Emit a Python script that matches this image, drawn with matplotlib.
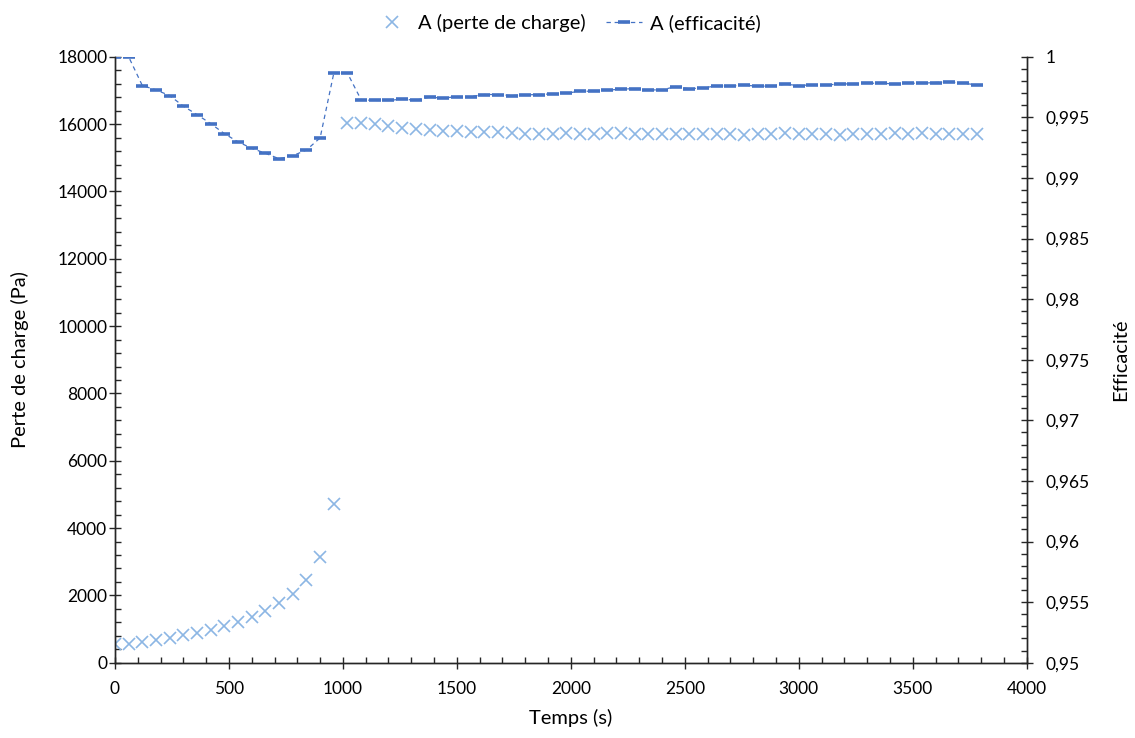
import numpy as np
import matplotlib
matplotlib.use('Agg')
import matplotlib.pyplot as plt
from matplotlib.ticker import MultipleLocator, FuncFormatter

plt.rcParams['font.family'] = ['Lato', 'DejaVu Sans']
plt.rcParams['font.size'] = 12.5

# Time in seconds (one measurement every 60 s)
temps = list(range(0, 3781, 60))

# Pressure drop (Pa)
perte_charge = [
    560, 570, 625, 685, 745, 835, 895, 985, 1090, 1200, 1370, 1550, 1765, 2035,
    2470, 3155, 4720,
    16030, 16040, 15990, 15940, 15900, 15870, 15830, 15810, 15800, 15770,
    15760, 15760, 15730, 15720, 15700, 15700, 15740, 15710, 15720, 15730,
    15740, 15720, 15710, 15710, 15710, 15710, 15720, 15720, 15710, 15680,
    15710, 15720, 15740, 15720, 15710, 15700, 15690, 15700, 15710, 15720,
    15730, 15720, 15730, 15720, 15710, 15700, 15700,
]

# Efficiency
efficacite = [
    1.0, 1.0, 0.99763, 0.99727, 0.9968, 0.99593, 0.99523, 0.99449, 0.99366,
    0.99298, 0.99245, 0.99204, 0.99159, 0.99184, 0.99231, 0.99331, 0.99865,
    0.99865, 0.99645, 0.9964, 0.9964, 0.99651, 0.99642, 0.99667, 0.99659,
    0.99672, 0.99672, 0.99689, 0.99689, 0.9968, 0.99686, 0.99689, 0.99694,
    0.997, 0.99716, 0.99716, 0.99725, 0.99733, 0.99738, 0.99727, 0.99727,
    0.99755, 0.99736, 0.99744, 0.9976, 0.9976, 0.99766, 0.99758, 0.99758,
    0.99774, 0.99763, 0.99769, 0.99769, 0.99774, 0.99779, 0.99782, 0.99782,
    0.99777, 0.99782, 0.99782, 0.99788, 0.99793, 0.99782, 0.99769,
]

LIGHT = '#8CB6E4'
DARK = '#4472C4'
AXIS = '#262626'
LABEL_SIZE = 14.5

fig = plt.figure(figsize=(11.35, 7.38), dpi=100)
ax = fig.add_axes([0.1013, 0.102, 0.8033, 0.821])
ax2 = ax.twinx()

l1, = ax.plot(temps, perte_charge, linestyle='none', marker='x', markersize=9,
              markeredgewidth=1.2, color=LIGHT, label='A (perte de charge)')
l2, = ax2.plot(temps, efficacite, linestyle=(0, (3.5, 3)), linewidth=0.9,
               marker='_', markersize=8, markeredgewidth=2.6, color=DARK,
               label='A (efficacité)')

ax.set_xlim(0, 4000)
ax.set_ylim(0, 18000)
ax2.set_ylim(0.95, 1.0)

ax.xaxis.set_major_locator(MultipleLocator(500))
ax.xaxis.set_minor_locator(MultipleLocator(100))
ax.yaxis.set_major_locator(MultipleLocator(2000))
ax.yaxis.set_minor_locator(MultipleLocator(400))
ax2.yaxis.set_major_locator(MultipleLocator(0.005))
ax2.yaxis.set_minor_locator(MultipleLocator(0.001))
ax2.yaxis.set_major_formatter(FuncFormatter(lambda v, p: f'{round(v, 4):g}'.replace('.', ',')))

for a in (ax, ax2):
    a.spines['top'].set_visible(False)
    for s in ('left', 'right', 'bottom'):
        a.spines[s].set_color(AXIS)
        a.spines[s].set_linewidth(1.0)
    a.tick_params(which='major', direction='inout', length=9, width=1.0,
                  color=AXIS, labelcolor='black', labelsize=12.5)
    a.tick_params(which='minor', direction='in', length=4, width=1.0, color=AXIS)

ax.tick_params(axis='x', which='major', pad=9)
ax.tick_params(axis='y', which='major', pad=1)
ax2.tick_params(axis='y', which='major', pad=9)

ax.set_xlabel('Temps (s)', fontsize=LABEL_SIZE, labelpad=8)
ax.set_ylabel('Perte de charge (Pa)', fontsize=LABEL_SIZE, labelpad=20)
ax2.set_ylabel('Efficacité', fontsize=LABEL_SIZE, labelpad=16)

fig.legend(handles=[l1, l2], loc='upper center', bbox_to_anchor=(0.5, 1.005),
           ncol=2, frameon=False, fontsize=LABEL_SIZE, numpoints=1,
           handlelength=1.8, handletextpad=0.4, columnspacing=1.0)

fig.savefig('out.png', dpi=100)
